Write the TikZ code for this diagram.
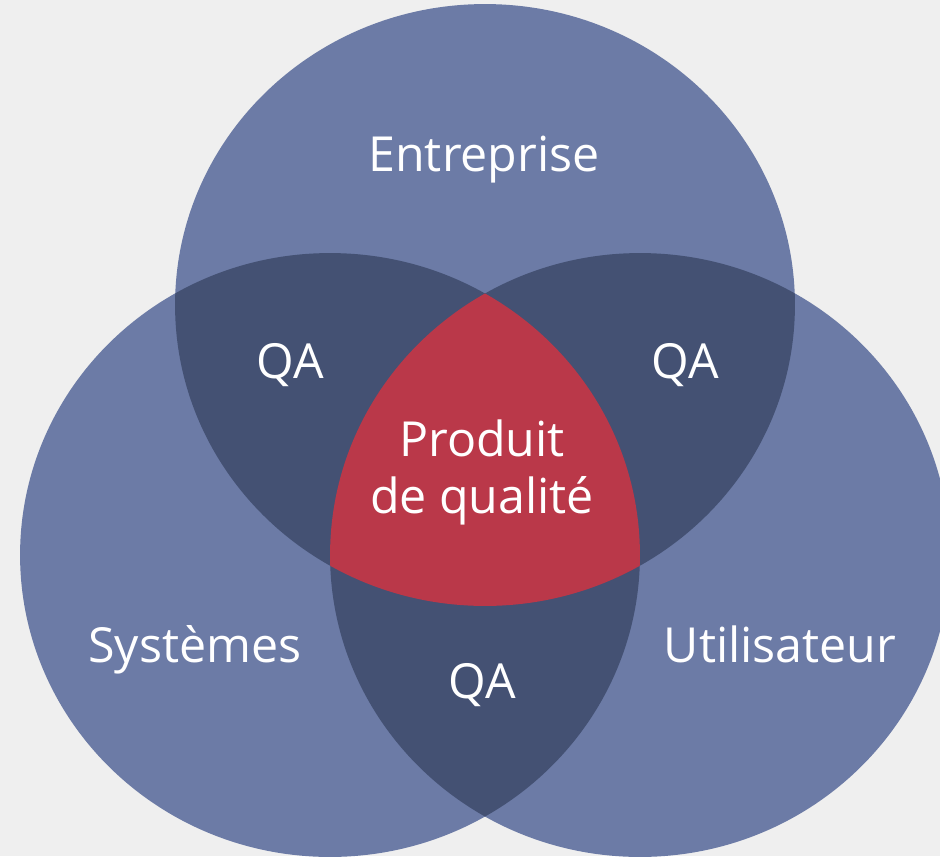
\documentclass[tikz,border=0pt]{standalone}
\usepackage{fontspec}
\setmainfont{Open Sans}
\usepackage{tikz}
\usetikzlibrary{positioning}
\definecolor{Paper}{HTML}{EFEFEF}
\definecolor{SetBlue}{HTML}{6C7BA6}
\definecolor{SetDark}{HTML}{445173}
\definecolor{CoreRed}{HTML}{BA3849}

% the three sets, in pixel coordinates
\newcommand{\setEnt}{(485,305) ellipse [x radius=6.2cm,y radius=6.02cm]}
\newcommand{\setSys}{(330,555) ellipse [x radius=6.2cm,y radius=6.04cm]}
\newcommand{\setUsr}{(640,555) ellipse [x radius=6.2cm,y radius=6.04cm]}

\begin{document}
\begin{tikzpicture}[
    x=0.02cm, y=-0.02cm,
    label/.style={text=white,inner sep=0pt,font=\fontsize{27.5}{32.4}\selectfont},
    core/.style={label,align=center}
]
\fill[Paper] (0,0) rectangle (940,856);
\useasboundingbox (0,0) rectangle (940,856);

\fill[SetBlue] \setEnt;
\fill[SetBlue] \setSys;
\fill[SetBlue] \setUsr;

% pairwise overlaps
\begin{scope}
  \clip \setEnt;
  \fill[SetDark] \setSys;
  \fill[SetDark] \setUsr;
\end{scope}
\begin{scope}
  \clip \setSys;
  \fill[SetDark] \setUsr;
\end{scope}

% all three
\begin{scope}
  \clip \setEnt;
  \clip \setSys;
  \fill[CoreRed] \setUsr;
\end{scope}

\node[label,anchor=base] (ent) at (484,171) {Entreprise};
\node[label,anchor=base] (sys) at (195,662) {Systèmes};
\node[label,anchor=base] (usr) at (780,662) {Utilisateur};
\node[label,anchor=base] (qa1) at (290,378) {QA};
\node[label,anchor=base] (qa2) at (685,378) {QA};
\node[label,anchor=base] (qa3) at (482,698) {QA};
\node[core] (core) at (482,472) {Produit\\de qualité};
\end{tikzpicture}
\end{document}
